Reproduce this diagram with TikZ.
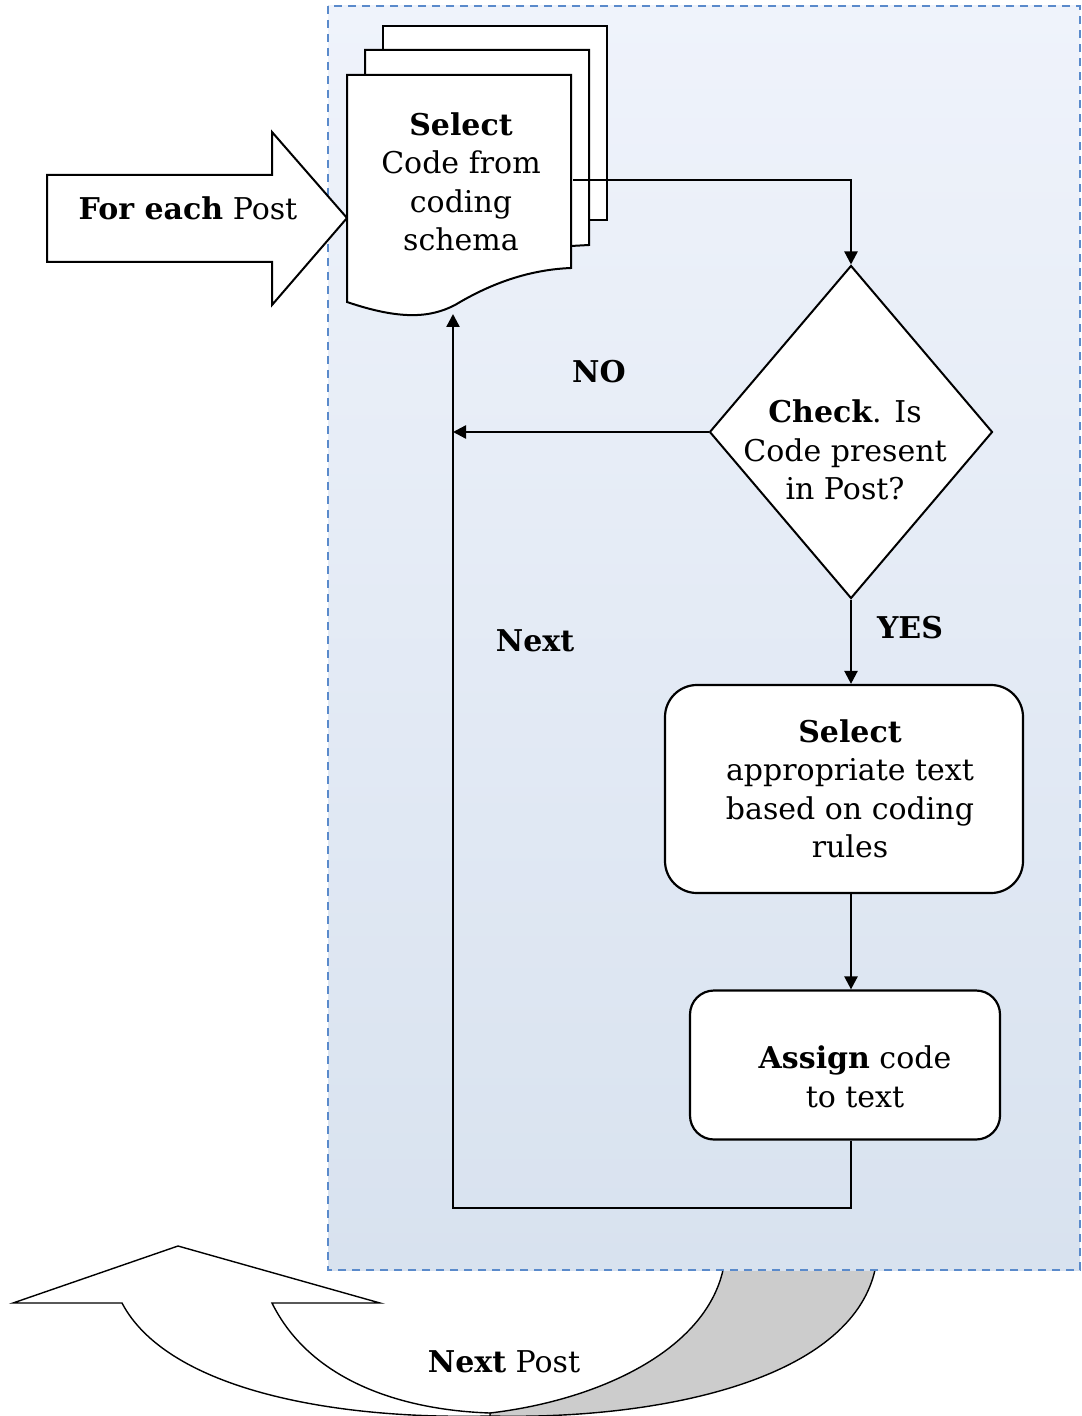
\documentclass[tikz,border=0pt]{standalone}
\usepackage{fontspec}
\setmainfont{DejaVu Serif}
\usetikzlibrary{positioning,shapes.geometric,arrows.meta}

\definecolor{paneltop}{HTML}{EFF3FB}
\definecolor{panelbot}{HTML}{D8E2EF}
\definecolor{paneledge}{HTML}{5A8ACB}
\definecolor{backface}{HTML}{CCCCCC}

\tikzset{
  flow/.style={draw, line width=1.2pt, -{Triangle[length=6.5pt,width=6.5pt]}},
  sheet/.style={draw, line width=1pt, fill=white},
  roundbox/.style={draw, line width=1.1pt, fill=white, rounded corners=16pt},
  decision/.style={draw, diamond, line width=1pt, fill=white, inner sep=0pt},
  txt/.style={align=center, inner sep=0pt},
  tag/.style={font=\bfseries, inner sep=0pt}
}

\begin{document}
\fontsize{15pt}{19.2pt}\selectfont
\begin{tikzpicture}[x=0.5pt, y=-0.5pt]
\useasboundingbox (0,0) rectangle (1081,1416);

% turn-back arrow under the panel
\path[sheet, fill=backface, line width=0.7pt] (723,1250) -- (723,1270)
  .. controls (705,1350) and (600,1400) .. (490,1413) -- (490,1416)
  .. controls (660,1420) and (850,1380) .. (875,1270) -- (875,1250) -- cycle;
\path[sheet, line width=0.7pt] (13,1303) -- (178,1246) -- (380,1303) -- (272,1303)
  .. controls (310,1380) and (400,1410) .. (490,1413) -- (490,1416)
  .. controls (320,1420) and (165,1385) .. (122,1303) -- cycle;
\node[txt] (nextpost) at (504,1362) {\textbf{Next} Post};

% panel
\shade[top color=paneltop, bottom color=panelbot] (328,6) rectangle (1080,1270);
\draw[paneledge, line width=0.9pt, dash pattern=on 4pt off 3pt] (328,6) rectangle (1080,1270);

% entry arrow
\path[sheet] (47,175) -- (272,175) -- (272,132) -- (347,218) -- (272,305)
  -- (272,262) -- (47,262) -- cycle;
\node[txt] (each) at (188,208) {\textbf{For each} Post};

% stack of code sheets
\path[sheet] (383,26) rectangle (607,220);
\path[sheet] (365,50) -- (589,50) -- (589,245) -- (571,246) -- (365,246) -- cycle;
\path[sheet] (347,75) -- (571,75) -- (571,268)
  .. controls (520,270) and (480,290) .. (455,305)
  .. controls (430,318) and (400,320) .. (347,302) -- cycle;
\node[txt, minimum width=112pt, minimum height=105pt] (doc) at (461,182)
  {\textbf{Select}\\Code from\\coding\\schema};

% decision
\node[decision, minimum width=141.5pt, minimum height=166.5pt] (check) at (851,432) {};
\node[txt] (checktext) at (845,450) {\textbf{Check}. Is\\Code present\\in Post?};

% actions
\node[roundbox, minimum width=179pt, minimum height=104pt] (select) at (844,789) {};
\node[txt] (selecttext) at (850,789)
  {\textbf{Select}\\appropriate text\\based on coding\\rules};
\node[roundbox, minimum width=155pt, minimum height=74.5pt, rounded corners=12pt] (assign) at (845,1065) {};
\node[txt] (assigntext) at (855,1077) {\textbf{Assign} code\\to text};

\coordinate (docfoot) at (453,314);
\coordinate (turn) at (453,1208);

% connectors
\draw[flow] (doc.east |- 0,180) -| (check.north);
\draw[flow] (check.south) -- (check.south |- select.north);
\draw[flow] (select.south -| check) -- (assign.north -| check);
\draw[flow] (assign.south -| check) |- (turn) -- (docfoot);
\draw[flow] (check.west) -- (check.west -| turn);

\node[tag] (no) at (599,372) {NO};
\node[tag] (yes) at (910,628) {YES};
\node[tag] (next) at (535,641) {Next};
\end{tikzpicture}
\end{document}
